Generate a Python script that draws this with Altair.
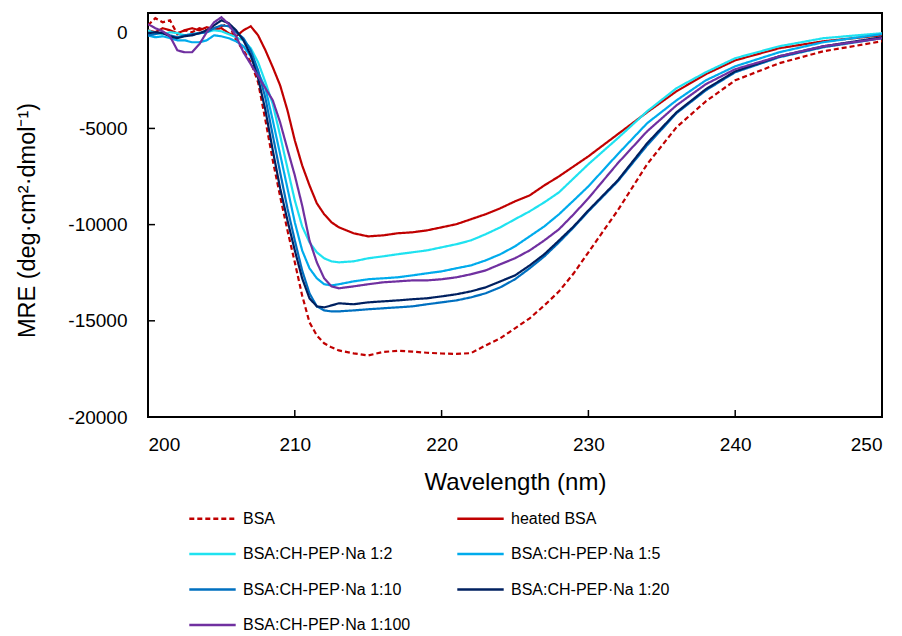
import altair as alt
import pandas as pd

wavelength = [200, 200.5, 201, 201.5, 202, 202.5, 203, 203.5, 204, 204.5, 205, 205.5, 206, 206.5,
              207, 207.5, 208, 208.5, 209, 209.5, 210, 210.5, 211, 211.5, 212, 212.5, 213,
              214, 215, 216, 217, 218, 219, 220, 221, 222, 223, 224, 225, 226, 227, 228, 229, 230,
              232, 234, 236, 238, 240, 243, 246, 250]

bsa = [360, 730, 520, 620, -100, 100, 0, 210, 100, 210, 310, 420, -420, -940, -1560, -2600, -4580,
       -6660, -8530, -10300, -11960, -13680, -15080, -15760, -16170, -16380, -16540,
       -16690, -16800, -16620, -16560, -16600, -16660, -16700, -16720, -16680, -16280, -15910,
       -15390, -14870, -14200, -13470, -12530, -11440,
       -9260, -6860, -4940, -3590, -2500, -1610, -990, -470]
heated = [100, 0, 210, 100, -50, 100, 210, 100, 260, 160, 210, -50, -210, 100, 310, -160, -940,
          -1820, -2760, -4060, -5620, -6920, -7960, -8890, -9460, -9880, -10140,
          -10450, -10610, -10560, -10450, -10400, -10300, -10140, -9980, -9720, -9460, -9150,
          -8790, -8480, -7960, -7490, -6970, -6450,
          -5300, -4160, -3070, -2180, -1460, -830, -470, -160]
r1_2 = [100, -50, -100, 0, -50, -160, -100, -50, 0, 100, 50, -100, -260, -420, -830, -1560, -2600,
        -3740, -5360, -7070, -8740, -10090, -10920, -11440, -11750, -11910, -11960,
        -11910, -11750, -11650, -11540, -11440, -11340, -11180, -11020, -10820, -10500, -10140,
        -9720, -9310, -8840, -8320, -7590, -6860,
        -5510, -4110, -2910, -2080, -1350, -730, -310, -50]
r1_5 = [-160, -260, -210, -310, -420, -420, -520, -520, -420, -160, -210, -310, -470, -730, -1250,
        -2080, -2910, -4580, -6340, -8110, -9880, -11340, -12270, -12790, -13100, -13160, -13100,
        -12950, -12840, -12790, -12740, -12640, -12530, -12430, -12270, -12120, -11860, -11540,
        -11130, -10610, -10090, -9460, -8740, -8010,
        -6340, -4730, -3540, -2500, -1770, -1040, -520, -100]
r1_10 = [-160, -100, 0, -160, -260, -160, -100, -50, 0, 210, 360, 310, 0, -310, -940, -1980, -3430,
         -5360, -7280, -9150, -10820, -12380, -13570, -14250, -14460, -14510, -14510,
         -14460, -14400, -14350, -14300, -14250, -14140, -14040, -13940, -13780, -13570, -13260,
         -12840, -12270, -11650, -10920, -10140, -9310,
         -7750, -5880, -4210, -3020, -2080, -1300, -780, -310]
r1_20 = [-50, 0, -50, -210, -310, -210, -160, -50, 100, 360, 620, 470, 100, -420, -1200, -2390,
         -4060, -6140, -8110, -9780, -11340, -12790, -13830, -14250, -14300, -14200, -14090,
         -14140, -14040, -13990, -13940, -13880, -13830, -13730, -13620, -13470, -13260, -12950,
         -12640, -12120, -11540, -10820, -10090, -9260,
         -7700, -5770, -4160, -2960, -2030, -1250, -730, -260]
r1_100 = [420, 210, 50, -210, -940, -1040, -1040, -620, 0, 520, 780, 420, -210, -1040, -1660, -2290,
          -2910, -3540, -4680, -6080, -7440, -9000, -10820, -11960, -12790, -13210, -13310,
          -13210, -13100, -13000, -12950, -12900, -12900, -12840, -12740, -12580, -12380, -12060,
          -11750, -11340, -10820, -10240, -9460, -8630,
          -6810, -5150, -3800, -2700, -1920, -1250, -730, -310]

series_names = ["BSA", "heated BSA", "BSA:CH-PEP·Na 1:2", "BSA:CH-PEP·Na 1:5",
                "BSA:CH-PEP·Na 1:10", "BSA:CH-PEP·Na 1:20", "BSA:CH-PEP·Na 1:100"]
series_values = [bsa, heated, r1_2, r1_5, r1_10, r1_20, r1_100]
colors = ["#C00000", "#C00000", "#1FE2F0", "#00ABEC", "#0070C0", "#002060", "#7030A0"]
dashes = [[5, 3], [1, 0], [1, 0], [1, 0], [1, 0], [1, 0], [1, 0]]

x_ticks = [200, 210, 220, 230, 240, 250]
y_ticks = [0, -5000, -10000, -15000, -20000]

rows = []
for name, vals in zip(series_names, series_values):
    for w, v in zip(wavelength, vals):
        rows.append({"wl": w, "mre": v, "series": name})
df = pd.DataFrame(rows)

FONT = "Liberation Sans"

x_enc = alt.X("wl:Q", scale=alt.Scale(domain=[200, 250], nice=False, zero=False),
              axis=alt.Axis(values=x_ticks, title="Wavelength (nm)", tickSize=0, labelPadding=18,
                            domain=False, grid=False, titleY=65, titleBaseline="middle"))
y_enc = alt.Y("mre:Q", scale=alt.Scale(domain=[-20000, 1000], nice=False, zero=False),
              axis=alt.Axis(values=y_ticks, title="MRE (deg·cm²·dmol⁻¹)", tickSize=0,
                            labelPadding=21, domain=False, grid=False,
                            labelExpr="datum.value + ''", titleX=-121, titleY=207,
                            titleBaseline="middle", titleFontSize=23.5))

legend = alt.Legend(title=None, orient="none", legendX=47, legendY=488, columns=2,
                    direction="horizontal",
                    symbolType="M-1.45,0H1.45", symbolSize=1024, symbolStrokeWidth=2.5,
                    labelFontSize=16, labelFont=FONT, labelColor="black", labelLimit=400,
                    labelOffset=13, rowPadding=9.5, columnPadding=41, gridAlign="all", padding=0)

lines = alt.Chart(df).mark_line(strokeWidth=2.2, clip=True).encode(
    x=x_enc,
    y=y_enc,
    color=alt.Color("series:N", scale=alt.Scale(domain=series_names, range=colors),
                    sort=series_names, legend=legend),
    strokeDash=alt.StrokeDash("series:N", scale=alt.Scale(domain=series_names, range=dashes),
                              sort=series_names, legend=legend),
    order=alt.Order("wl:Q"),
)

xt = alt.Chart(pd.DataFrame({"wl": x_ticks[1:-1]})).mark_rule(color="black", strokeWidth=1.5).encode(
    x=alt.X("wl:Q"), y=alt.value(404), y2=alt.value(397))
yt = alt.Chart(pd.DataFrame({"mre": y_ticks[1:-1]})).mark_rule(color="black", strokeWidth=1.5).encode(
    y=alt.Y("mre:Q"), x=alt.value(0), x2=alt.value(7))

chart = alt.layer(lines, xt, yt).properties(
    width=734, height=404,
    autosize=alt.AutoSizeParams(type="none"),
    padding={"left": 148, "top": 13, "right": 20, "bottom": 219},
    background="white",
).configure_view(
    stroke="black", strokeWidth=2
).configure_axis(
    labelFont=FONT, titleFont=FONT, labelFontSize=19, titleFontSize=24,
    labelColor="black", titleColor="black", titleFontWeight="normal"
)

chart.save("out.html", embed_options={"renderer": "svg", "actions": False})
